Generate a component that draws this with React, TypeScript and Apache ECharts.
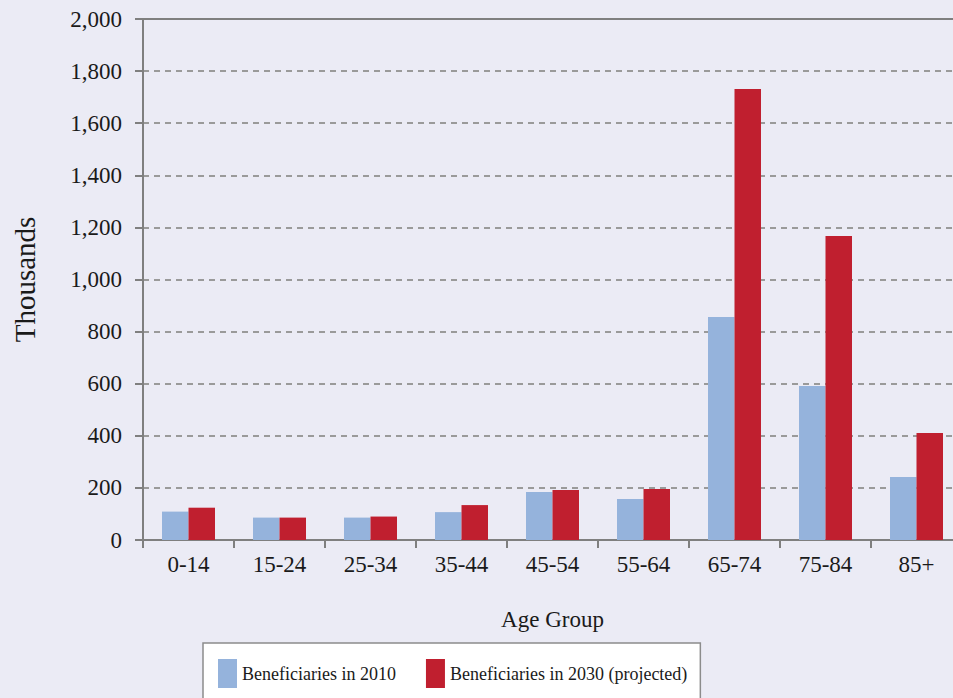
import React, { useEffect, useRef } from "react";
import * as echarts from "echarts";

const categories = ["0-14", "15-24", "25-34", "35-44", "45-54", "55-64", "65-74", "75-84", "85+"];
const series2010 = [109, 86, 86, 107, 184, 157, 856, 591, 242];
const series2030 = [124, 86, 90, 134, 192, 196, 1731, 1167, 411];
const yTicks = { min: 0, max: 2000, interval: 200 };
const seriesNames = ["Beneficiaries in 2010", "Beneficiaries in 2030 (projected)"];

const FONT = "'Liberation Serif', 'DejaVu Serif', serif";

export default function App() {
  const ref = useRef<HTMLDivElement>(null);
  useEffect(() => {
    if (!ref.current) return;
    const chart = echarts.init(ref.current, undefined, { renderer: "svg" });
    chart.setOption({
      animation: false,
      backgroundColor: "#ebebf5",
      textStyle: { fontFamily: FONT, color: "#1a1a1a" },
      grid: { left: 143, top: 19, width: 819, height: 521, containLabel: false, outerBoundsMode: "none" },
      legend: {
        left: 203,
        top: 643,
        orient: "horizontal",
        backgroundColor: "#ffffff",
        borderColor: "#8c8c8c",
        borderWidth: 1.5,
        borderRadius: 0,
        padding: [16, 13, 16, 15],
        itemWidth: 19,
        itemHeight: 29,
        itemGap: 30,
        icon: "rect",
        textStyle: { fontFamily: FONT, fontSize: 18, color: "#1a1a1a" },
        data: seriesNames,
      },
      xAxis: [
        {
          type: "category",
          data: categories,
          name: "Age Group",
          nameLocation: "middle",
          nameGap: 68,
          nameTextStyle: { fontFamily: FONT, fontSize: 23, color: "#1a1a1a" },
          axisLine: { show: true, lineStyle: { color: "#7f7f7f", width: 2 } },
          axisTick: { show: true, length: 8, alignWithLabel: false, lineStyle: { color: "#7f7f7f", width: 2 } },
          axisLabel: { fontFamily: FONT, fontSize: 23, color: "#1a1a1a", margin: 13 },
          splitLine: { show: false },
        },
        {
          type: "category",
          data: categories,
          position: "top",
          axisLine: { show: true, lineStyle: { color: "#7f7f7f", width: 2 } },
          axisTick: { show: false },
          axisLabel: { show: false },
        },
      ],
      yAxis: {
        type: "value",
        min: yTicks.min,
        max: yTicks.max,
        interval: yTicks.interval,
        name: "Thousands",
        nameLocation: "middle",
        nameGap: 104,
        nameRotate: 90,
        nameTextStyle: { fontFamily: FONT, fontSize: 29, color: "#1a1a1a" },
        axisLine: { show: true, lineStyle: { color: "#7f7f7f", width: 2 } },
        axisTick: { show: true, length: 8, inside: false, lineStyle: { color: "#7f7f7f", width: 2 } },
        axisLabel: {
          fontFamily: FONT,
          fontSize: 23,
          color: "#1a1a1a",
          margin: 21,
          formatter: (v: number) => v.toLocaleString("en-US"),
        },
        splitLine: { show: true, lineStyle: { color: "#9a9a9a", width: 2, type: [6, 5] } },
      },
      series: [
        {
          name: seriesNames[0],
          type: "bar",
          data: series2010,
          barWidth: 26.5,
          barGap: "0%",
          itemStyle: { color: "#95b3dc" },
        },
        {
          name: seriesNames[1],
          type: "bar",
          data: series2030,
          barWidth: 26.5,
          barGap: "0%",
          itemStyle: { color: "#c01f2f" },
        },
      ],
    });
    return () => chart.dispose();
  }, []);
  return (
    <div style={{ position: "fixed", left: 0, top: 0, width: 953, height: 698, overflow: "hidden" }}>
      <div ref={ref} style={{ width: 1000, height: 698 }} />
    </div>
  );
}
